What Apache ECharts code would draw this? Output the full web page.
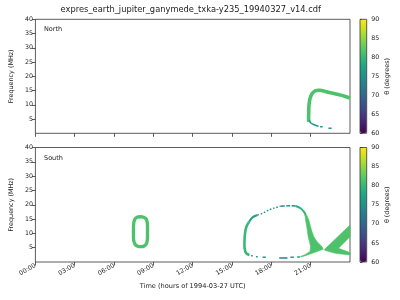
<!DOCTYPE html>
<html>
<head>
<meta charset="utf-8">
<script src="https://cdn.jsdelivr.net/npm/echarts@6/dist/echarts.min.js"></script>
<style>html,body{margin:0;padding:0;background:#fff}#c{width:400px;height:300px}</style>
</head>
<body>
<div id="c"></div>
<script>
// ---------------- data ----------------
const TITLE = 'expres_earth_jupiter_ganymede_txka-y235_19940327_v14.cdf';
const xTicks = [0, 3, 6, 9, 12, 15, 18, 21];
const xTickLabels = ['00:00', '03:00', '06:00', '09:00', '12:00', '15:00', '18:00', '21:00'];
const yTicks = [5, 10, 15, 20, 25, 30, 35, 40];
const cbTicks = [60, 65, 70, 75, 80, 85, 90];

// North hemisphere: [hour, MHz]
const northArc = [[20.85,4.0],[20.84,5.5],[20.85,7.0],[20.87,9.8],[20.95,12.2],[21.1,13.9],[21.35,14.9],[21.7,15.1],[22.1,14.7],[22.6,14.1],[23.1,13.6],[23.6,13.0],[24.0,12.4]];
const northTail = [[20.88,4.6],[20.98,3.8],[21.12,3.3],[21.37,2.8],[21.6,2.45]];
const northDash1 = [[21.72,2.3],[21.92,2.3]];
const northDash2 = [[22.35,1.75],[22.6,1.75]];
const northTheta = { arc: 81.5, tail: 77, dash: 76.5 };

// South hemisphere: [hour, MHz]
const southOval = [[8.0,15.8],[8.25,15.65],[8.45,15.0],[8.53,13.8],[8.55,12.0],[8.55,10.0],[8.54,8.0],[8.48,6.5],[8.3,5.6],[8.05,5.35],[7.8,5.5],[7.6,6.2],[7.5,7.5],[7.48,9.5],[7.48,11.5],[7.5,13.5],[7.58,14.9],[7.75,15.6]];
const loopLeft = [[16.31,14.1],[16.12,12.6],[16.03,11.2],[15.97,9.0],[15.95,7.0],[15.96,4.8],[16.08,3.04],[16.33,2.45]];
const loopTopA = [[16.31,14.1],[16.56,15.6],[16.94,16.4]];
const loopTopB = [[16.94,16.4],[17.32,17.0],[17.82,18.2],[18.2,18.8],[18.7,19.5]];
const loopTopC = [[18.7,19.5],[19.1,19.6],[19.5,19.65],[19.86,19.55]];
const loopTopD = [[19.86,19.55],[20.23,18.76],[20.48,17.57],[20.62,16.42]];
const leftWing = [[21.95,4.44],[21.12,3.04],[20.6,2.2],[20.23,1.75],[20.23,1.95],[20.6,2.65],[20.95,3.7],[20.99,5.35],[20.91,7.09],[20.81,8.84],[20.74,11.18],[20.61,14.67],[20.56,16.42],[20.69,16.42],[20.86,14.67],[21.06,11.18],[21.24,8.84],[21.49,7.09],[21.87,5.35]];
const rightWing = [[22.07,4.44],[24.0,12.93],[24.0,8.84],[23.12,4.79],[24.0,3.3],[24.0,2.45],[22.87,3.04],[22.07,4.1]];
const southDashes = [[[16.45,2.2],[16.58,2.15]],[[16.83,1.87],[16.96,1.83]],[[17.33,1.66],[17.58,1.62]],[[19.45,1.62],[19.72,1.64]],[[19.97,1.74],[20.18,1.78]]];
const southDarkDash = [[18.6,1.4],[19.23,1.4]];
const southTheta = { oval: 81.5, left: 80, topA: 77.5, topB: 75.5, topC: 74, topD: 79.5, wing: 81.5, dash: 76.5, dark: 73.5 };

// ---------------- styles (kept apart from data) ----------------
const STY = {
  thick:  { kind: 'line', width: 3.6, smooth: 0.3 },
  thin:   { kind: 'line', width: 1.6, smooth: 0.3 },
  dash:   { kind: 'line', width: 1.5 },
  ring:   { kind: 'ring', width: 3.3, smooth: 0.35 },
  side:   { kind: 'line', width: 2.6, smooth: 0.3 },
  dots:   { kind: 'line', width: 1.4, dash: [1.6, 1.8], smooth: 0.3 },
  longd:  { kind: 'line', width: 1.4, dash: [4, 1.6], smooth: 0.3 },
  med:    { kind: 'line', width: 2.0, smooth: 0.3 },
  poly:   { kind: 'poly' }
};

const northFeatures = [
  { segs: [northArc], theta: northTheta.arc, sty: 'thick' },
  { segs: [northTail], theta: northTheta.tail, sty: 'thin' },
  { segs: [northDash1, northDash2], theta: northTheta.dash, sty: 'dash' }
];
const southFeatures = [
  { segs: [southOval], theta: southTheta.oval, sty: 'ring' },
  { segs: [loopLeft], theta: southTheta.left, sty: 'side' },
  { segs: [loopTopA], theta: southTheta.topA, sty: 'med' },
  { segs: [loopTopB], theta: southTheta.topB, sty: 'dots' },
  { segs: [loopTopC], theta: southTheta.topC, sty: 'longd' },
  { segs: [loopTopD], theta: southTheta.topD, sty: 'med' },
  { segs: [leftWing], theta: southTheta.wing, sty: 'poly' },
  { segs: [rightWing], theta: southTheta.wing, sty: 'poly' },
  { segs: southDashes, theta: southTheta.dash, sty: 'dash' },
  { segs: [southDarkDash], theta: southTheta.dark, sty: 'dash' }
];

const VIRIDIS = ['#440154','#471365','#482475','#463480','#414487','#3b528b','#355f8d','#2f6c8e','#2a788e','#25848e','#21918c','#1e9c89','#22a884','#2fb47c','#44bf70','#5ec962','#7ad151','#9bd93c','#bddf26','#dfe318','#fde725'];

const FONT = 'DejaVu Sans';
const TXT = '#222';
const AX = '#333';

function makeRender(features) {
  return function (params, api) {
    const feat = features[api.value(0)];
    const st = STY[feat.sty];
    const color = api.visual('color');
    const children = feat.segs.map(function (seg) {
      const pts = seg.map(function (p) { return api.coord(p); });
      if (st.kind === 'poly') {
        return { type: 'polygon', shape: { points: pts }, style: { fill: color, stroke: color, lineWidth: 0.6 } };
      }
      if (st.kind === 'ring') {
        return { type: 'polygon', shape: { points: pts, smooth: st.smooth }, style: { fill: 'none', stroke: color, lineWidth: st.width } };
      }
      return { type: 'polyline', shape: { points: pts, smooth: st.smooth || 0 },
        style: { fill: 'none', stroke: color, lineWidth: st.width, lineDash: st.dash || null, lineCap: 'butt', lineJoin: 'round' } };
    });
    return { type: 'group', children: children };
  };
}

const gridTop = { left: 31.7, width: 318.3, top: 19.3, height: 114 };
const gridBot = { left: 31.7, width: 318.3, top: 147.5, height: 114.5 };

function xAxisFor(gi, showLabels) {
  return {
    type: 'value', gridIndex: gi, min: 0, max: 24,
    axisLine: { show: false },
    splitLine: { show: false },
    axisTick: { show: true, customValues: xTicks, length: 3.5, lineStyle: { color: AX, width: 0.8 } },
    axisLabel: { show: showLabels, customValues: xTicks, rotate: 30, margin: 3, fontSize: 6.3, fontFamily: FONT, color: TXT,
      formatter: function (v) { return xTickLabels[xTicks.indexOf(v)]; } },
    name: showLabels ? 'Time (hours of 1994-03-27 UTC)' : '',
    nameLocation: 'middle', nameGap: 20.5,
    nameTextStyle: { fontSize: 6.6, fontFamily: FONT, color: TXT }
  };
}
function yAxisFor(gi) {
  return {
    type: 'value', gridIndex: gi, min: 0, max: 40,
    axisLine: { show: false },
    splitLine: { show: false },
    axisTick: { show: true, customValues: yTicks, length: 3.5, lineStyle: { color: AX, width: 0.8 } },
    axisLabel: { customValues: yTicks, margin: 2.5, fontSize: 6.3, fontFamily: FONT, color: TXT },
    name: 'Frequency (MHz)', nameLocation: 'middle', nameGap: 17.5, nameRotate: 90,
    nameTextStyle: { fontSize: 6.4, fontFamily: FONT, color: TXT }
  };
}
function cbGrid(top, height) {
  return { left: 360, width: 6.7, top: top, height: height, show: true, borderColor: AX, borderWidth: 0.8, backgroundColor: 'transparent', z: 10 };
}
function cbYAxis(gi) {
  return {
    type: 'value', gridIndex: gi, min: 60, max: 90, interval: 5, position: 'right',
    axisLine: { show: false }, splitLine: { show: false },
    axisTick: { show: true, length: 2.5, lineStyle: { color: AX, width: 0.8 } },
    axisLabel: { margin: 4.5, fontSize: 6.3, fontFamily: FONT, color: TXT },
    name: 'θ (degrees)', nameLocation: 'middle', nameGap: 17.5, nameRotate: 90,
    nameTextStyle: { fontSize: 6.4, fontFamily: FONT, color: TXT }
  };
}
function visMap(si, top, height) {
  return {
    type: 'continuous', seriesIndex: si, dimension: 1, min: 60, max: 90,
    calculable: false, orient: 'vertical', left: 360, top: top, itemWidth: 6.7, itemHeight: height,
    padding: 0, text: null, hoverLink: false,
    inRange: { color: VIRIDIS }
  };
}

const option = {
  animation: false,
  backgroundColor: '#fff',
  grid: [
    Object.assign({ show: true, borderColor: AX, borderWidth: 0.8, backgroundColor: 'transparent' }, gridTop),
    Object.assign({ show: true, borderColor: AX, borderWidth: 0.8, backgroundColor: 'transparent' }, gridBot),
    cbGrid(gridTop.top, gridTop.height),
    cbGrid(gridBot.top, gridBot.height)
  ],
  xAxis: [
    xAxisFor(0, false),
    xAxisFor(1, true),
    { type: 'value', gridIndex: 2, min: 0, max: 1, show: false },
    { type: 'value', gridIndex: 3, min: 0, max: 1, show: false }
  ],
  yAxis: [yAxisFor(0), yAxisFor(1), cbYAxis(2), cbYAxis(3)],
  visualMap: [visMap(0, gridTop.top, gridTop.height), visMap(1, gridBot.top, gridBot.height)],
  graphic: [
    { type: 'text', x: 190.8, y: 10.3, style: { text: TITLE, fontSize: 8.3, fontFamily: FONT, fill: TXT, align: 'center', verticalAlign: 'middle' } },
    { type: 'text', x: 44, y: 29.3, style: { text: 'North', fontSize: 6.5, fontFamily: FONT, fill: TXT, align: 'left', verticalAlign: 'middle' } },
    { type: 'text', x: 44, y: 158.3, style: { text: 'South', fontSize: 6.5, fontFamily: FONT, fill: TXT, align: 'left', verticalAlign: 'middle' } }
  ],
  series: [
    { type: 'custom', xAxisIndex: 0, yAxisIndex: 0, clip: true, dimensions: ['fid', 'theta'],
      encode: { x: 0, y: 1 },
      data: northFeatures.map(function (f, i) { return [i, f.theta]; }),
      renderItem: makeRender(northFeatures) },
    { type: 'custom', xAxisIndex: 1, yAxisIndex: 1, clip: true, dimensions: ['fid', 'theta'],
      encode: { x: 0, y: 1 },
      data: southFeatures.map(function (f, i) { return [i, f.theta]; }),
      renderItem: makeRender(southFeatures) }
  ]
};

const chart = echarts.init(document.getElementById('c'), null, { renderer: 'canvas' });
chart.setOption(option);
</script>
</body>
</html>
